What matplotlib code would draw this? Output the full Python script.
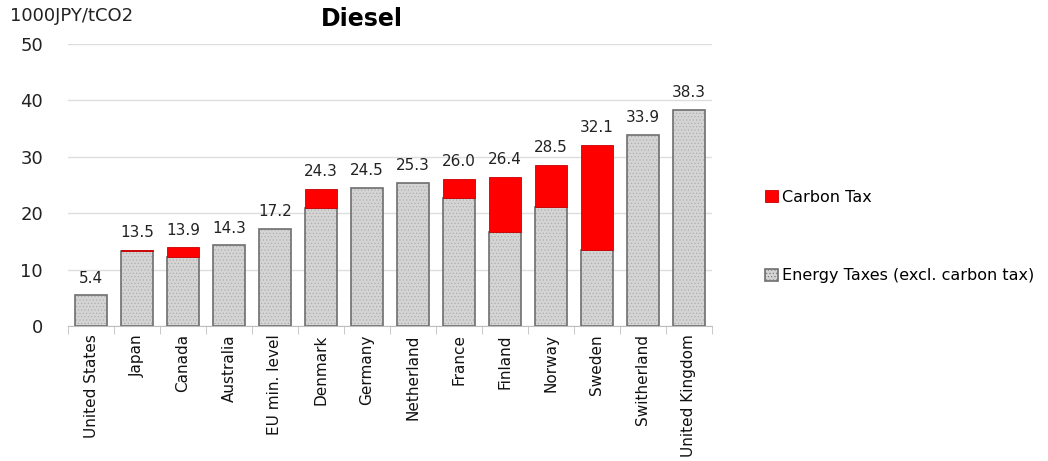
import matplotlib.pyplot as plt
import numpy as np

countries = ['United States', 'Japan', 'Canada', 'Australia', 'EU min. level', 'Denmark',
             'Germany', 'Netherland', 'France', 'Finland', 'Norway', 'Sweden',
             'Switherland', 'United Kingdom']
energy_tax = [5.4, 13.2, 12.2, 14.3, 17.2, 20.9, 24.5, 25.3, 22.7, 16.6, 21.1, 13.5, 33.9, 38.3]
carbon_tax = [0.0, 0.3, 1.7, 0.0, 0.0, 3.4, 0.0, 0.0, 3.3, 9.8, 7.4, 18.6, 0.0, 0.0]
totals = ['5.4', '13.5', '13.9', '14.3', '17.2', '24.3', '24.5', '25.3', '26.0', '26.4',
          '28.5', '32.1', '33.9', '38.3']

plt.rcParams['font.family'] = 'DejaVu Sans'
plt.rcParams['hatch.color'] = '#9a9a9a'
plt.rcParams['hatch.linewidth'] = 0.4

fig = plt.figure(figsize=(10.48, 4.61), dpi=100)
ax = fig.add_axes([0.065, 0.293, 0.614, 0.612])

x = np.arange(len(countries))
w = 0.7
energy = np.array(energy_tax)
carbon = np.array(carbon_tax)
has_c = carbon > 0

# textured fill then outline
ax.bar(x, energy, w, color='#d4d4d4', hatch='.....', edgecolor='#a8a8a8', linewidth=0, zorder=2)
b1 = ax.bar(x, energy, w, color='none', edgecolor='#6e6e6e', linewidth=1.2, zorder=3)
b2 = ax.bar(x[has_c], carbon[has_c], w, bottom=energy[has_c], color='#ff0000',
            edgecolor='#cc0000', linewidth=0.6, zorder=3)

for i in range(len(x)):
    ax.annotate(totals[i], (x[i], energy[i] + carbon[i]), xytext=(0, 7), textcoords='offset points',
                ha='center', va='bottom', fontsize=11, color='#222222')

ax.set_xlim(-0.5, len(x) - 0.5)
ax.set_ylim(0, 50)
ax.set_yticks(range(0, 51, 10))
ax.yaxis.grid(True, color='#dedede', linewidth=1)
ax.set_axisbelow(True)
for s in ['top', 'right', 'left']:
    ax.spines[s].set_visible(False)
ax.spines['bottom'].set_color('#bfbfbf')
ax.tick_params(axis='y', length=0, labelsize=13, pad=18, colors='#222222')
ax.set_xticks(x)
ax.set_xticklabels(countries, rotation=90, fontsize=11, color='#111111')
ax.tick_params(axis='x', length=0, pad=6)
ax.set_xticks(np.arange(-0.5, len(x), 1), minor=True)
ax.tick_params(axis='x', which='minor', length=6, color='#bfbfbf')

fig.text(0.01, 0.965, '1000JPY/tCO2', fontsize=13, ha='left', va='center', color='#222222')
fig.text(0.345, 0.958, 'Diesel', fontsize=17, fontweight='bold', ha='center', va='center')

fig.legend([b2, b1], ['Carbon Tax', 'Energy Taxes (excl. carbon tax)'],
           loc='upper left', bbox_to_anchor=(0.716, 0.62), frameon=False, fontsize=11.5,
           handlelength=0.8, handleheight=0.8, handletextpad=0.3, labelspacing=4.0)
# legend patch for energy should look filled
leg = fig.legends[0]
leg.legend_handles[1].set_facecolor('#d4d4d4')
leg.legend_handles[1].set_hatch('.....')

fig.savefig('out.png', dpi=100)
